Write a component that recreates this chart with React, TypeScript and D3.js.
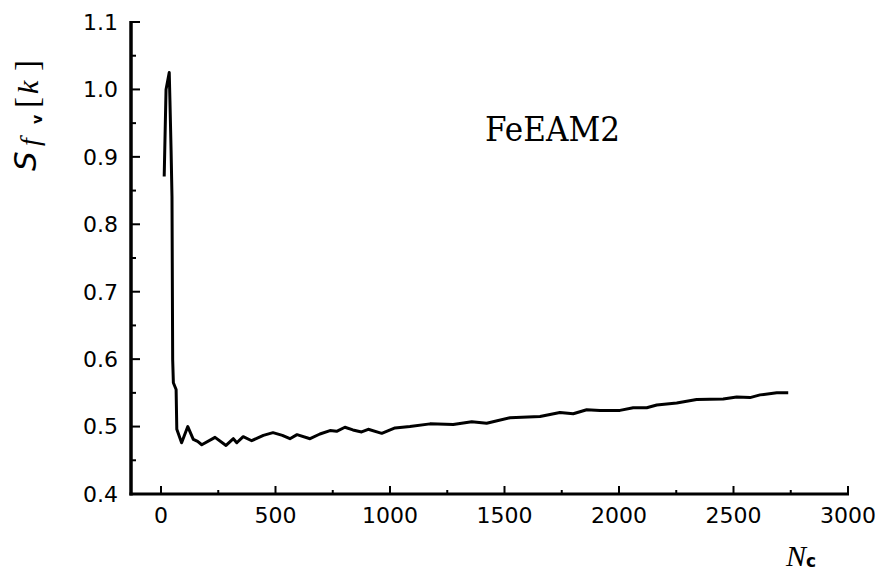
import React from "react";
import * as d3 from "d3";

const nc = [14, 22, 36, 39, 44, 48, 51, 54, 66, 69, 90, 117, 141, 160, 178, 236, 284, 316, 331, 359, 396, 447, 489, 530, 563, 594, 651, 694, 738, 767, 803, 838, 876, 905, 964, 1022, 1087, 1175, 1276, 1357, 1422, 1524, 1655, 1742, 1800, 1859, 1917, 2004, 2062, 2121, 2165, 2252, 2339, 2455, 2514, 2572, 2616, 2689, 2739];
const sf = [0.871, 1.0, 1.025, 0.984, 0.91, 0.841, 0.599, 0.565, 0.555, 0.496, 0.476, 0.5, 0.481, 0.478, 0.473, 0.484, 0.472, 0.482, 0.476, 0.485, 0.479, 0.487, 0.491, 0.487, 0.482, 0.488, 0.482, 0.489, 0.494, 0.493, 0.499, 0.495, 0.492, 0.496, 0.49, 0.498, 0.5, 0.504, 0.503, 0.507, 0.505, 0.513, 0.515, 0.521, 0.519, 0.525, 0.524, 0.524, 0.528, 0.528, 0.532, 0.535, 0.54, 0.541, 0.544, 0.543, 0.547, 0.55, 0.55];

const xMajor = [0, 500, 1000, 1500, 2000, 2500, 3000];
const xMinor = [250, 750, 1250, 1750, 2250, 2750];
const yMajor = [0.4, 0.5, 0.6, 0.7, 0.8, 0.9, 1.0, 1.1];
const yMinor = [0.45, 0.55, 0.65, 0.75, 0.85, 0.95, 1.05];
const seriesLabel = "FeEAM2";

export default function App() {
  const W = 885, H = 574;
  const x = d3.scaleLinear().domain([-131, 3000]).range([131, 848]);
  const y = d3.scaleLinear().domain([0.4, 1.1]).range([494, 22]);
  const pts = nc.map((n, i) => [n, sf[i]] as [number, number]);
  const line = d3.line<[number, number]>().x(d => x(d[0])).y(d => y(d[1]));
  const tickFont = "DejaVu Sans, sans-serif";
  const x0 = 131, y0 = y(0.4), yTop = y(1.1), xEnd = x(3000);
  // y-axis spine drawn as a d3 line through two points
  const spine = d3.line<[number, number]>()([[x0, yTop - 1], [x0 + 0.01, y0 + 1.5]]) || "";
  return (
    <svg width={W} height={H} viewBox={`0 0 ${W} ${H}`} style={{ position: "absolute", left: 0, top: 0, display: "block" }}>
      <rect x={0} y={0} width={W} height={H} fill="#fff" />
      <path d={spine} fill="none" stroke="#000" strokeWidth={3.5} />
      <line x1={x0 - 1.5} x2={xEnd + 1} y1={y0} y2={y0} stroke="#000" strokeWidth={3} />
      {xMajor.map(v => (
        <g key={"xm" + v}>
          <line x1={x(v)} x2={x(v)} y1={y0} y2={y0 - 8} stroke="#000" strokeWidth={2} />
          <text x={x(v)} y={523} textAnchor="middle" fontFamily={tickFont} fontSize={22}>{v}</text>
        </g>
      ))}
      {xMinor.map(v => (
        <line key={"xn" + v} x1={x(v)} x2={x(v)} y1={y0} y2={y0 - 4} stroke="#000" strokeWidth={2} />
      ))}
      {yMajor.map(v => (
        <g key={"ym" + v}>
          <line x1={x0} x2={x0 + 9} y1={y(v)} y2={y(v)} stroke="#000" strokeWidth={2} />
          <text x={118} y={y(v)} dy="0.36em" textAnchor="end" fontFamily={tickFont} fontSize={22}>{v.toFixed(1)}</text>
        </g>
      ))}
      {yMinor.map(v => (
        <line key={"yn" + v} x1={x0} x2={x0 + 5} y1={y(v)} y2={y(v)} stroke="#000" strokeWidth={2} />
      ))}
      <path d={line(pts) || ""} fill="none" stroke="#000" strokeWidth={3} strokeLinejoin="round" />
      <text x={485} y={141} fontFamily="DejaVu Serif, serif" fontSize={33} textLength={135} lengthAdjust="spacingAndGlyphs">{seriesLabel}</text>
      <text x={786} y={566} fontFamily="Liberation Serif, serif" fontStyle="italic" fontSize={30}>
        N<tspan fontFamily="DejaVu Sans, sans-serif" fontStyle="normal" fontWeight="bold" fontSize={17} dy={1}>c</tspan>
      </text>
      <g fontFamily="Liberation Serif, serif">
        <text transform="translate(36,171) rotate(-90)" fontSize={31} fontStyle="italic" fontFamily="DejaVu Sans, sans-serif">S</text>
        <text transform="translate(39,146) rotate(-90)" fontSize={28} fontStyle="italic">f</text>
        <text transform="translate(42,124) rotate(-90)" fontSize={14} fontWeight="bold" fontFamily="DejaVu Sans, sans-serif">v</text>
        <text transform="translate(38,108) rotate(-90)" fontSize={33}>[</text>
        <text transform="translate(38,94) rotate(-90)" fontSize={30} fontStyle="italic">k</text>
        <text transform="translate(38,71) rotate(-90)" fontSize={33}>]</text>
      </g>
    </svg>
  );
}
